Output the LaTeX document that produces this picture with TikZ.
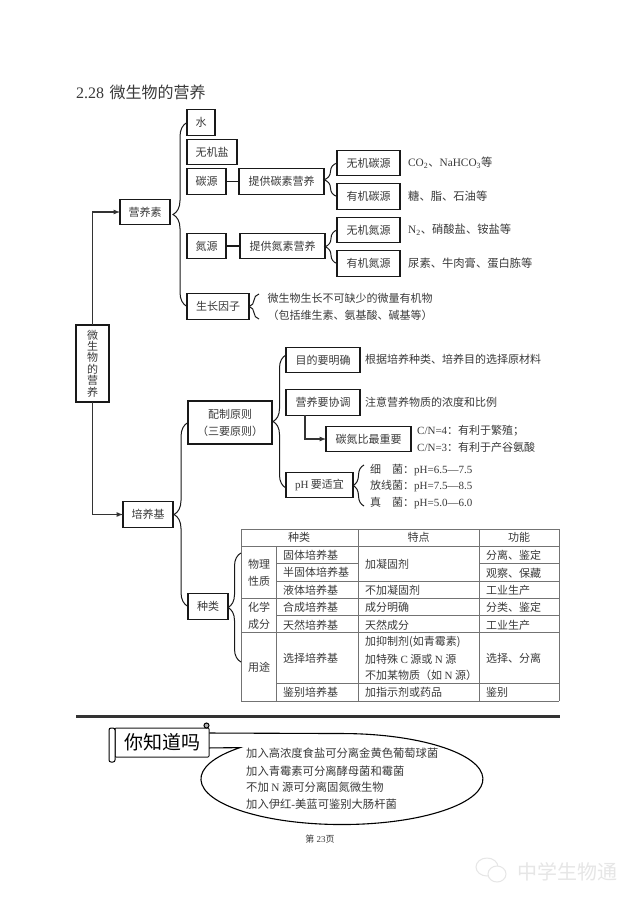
\documentclass[tikz,border=0pt]{standalone}
\usepackage{fontspec}
\usepackage{tikz}
\usetikzlibrary{positioning, decorations.pathreplacing}
\setmainfont{Noto Sans CJK SC}
\newfontfamily\lat{Liberation Serif}
\newcommand{\la}[1]{{\lat #1}}
\definecolor{ink}{HTML}{3A3A3A}
\definecolor{wmark}{HTML}{E6E6E6}

\begin{document}
\begin{tikzpicture}[
  x=1pt, y=-1pt,
  box/.style={draw=black!90, line width=1.2pt, text=ink, font=\fontsize{11}{17}\selectfont,
              align=center, minimum height=25.5pt, inner sep=0pt, outer sep=0pt},
  txt/.style={text=ink, font=\fontsize{11}{17}\selectfont, align=center, inner sep=0pt},
  wide/.style={text=ink, font=\fontsize{11.3}{17}\selectfont, inner sep=0pt},
  cell/.style={txt, anchor=west},
  brc/.style={decorate, decoration={brace, amplitude=#1}, draw=black!90, line width=1pt},
  arr/.style={->, >=latex, draw=black!80, line width=1.2pt},
  tline/.style={draw=black!55, line width=0.7pt},
  node distance=8pt and 13pt
]
  \useasboundingbox (0,0) rectangle (640,905);
  \fill[white] (0,0) rectangle (640,905);

  \node[anchor=west, text=ink, font=\fontsize{16}{18}\selectfont, inner sep=0pt] (title) at (76,92) {\la{2.28}\hspace{5.5pt}微生物的营养};

  % root and first level
  \node[box, minimum width=33pt, minimum height=77pt, font=\fontsize{11}{11.4}\selectfont] (root) at (92.5,363.5) {微\\生\\物\\的\\营\\养};
  \node[box, minimum width=50pt] (yingyang) at (145,212) {营养素};
  \node[box, minimum width=50pt] (peiyang) at (148,514.5) {培养基};
  \draw[arr] (root.north) |- (yingyang.west);
  \draw[arr] (root.south) |- (peiyang.west);

  % nutrients
  \node[box, minimum width=28pt] (shui) at (201,122.5) {水};
  \node[box, minimum width=50pt, below=4pt of shui.south west, anchor=north west] (yan) {无机盐};
  \node[box, minimum width=39pt, below=4pt of yan.south west, anchor=north west] (tan) {碳源};
  \node[box, minimum width=85pt, right=of tan] (tangy) {提供碳素营养};
  \node[box, minimum width=39pt] (dan) at (206.5,246) {氮源};
  \node[box, minimum width=85pt, right=14pt of dan] (dangy) {提供氮素营养};
  \node[box, minimum width=62pt] (yinzi) at (218,306.5) {生长因子};
  \draw[box] (tan)--(tangy); \draw[box] (dan)--(dangy);
  \draw[brc=14pt] (yinzi.west)--(shui.west);

  \node[box, minimum width=63pt] (wutan) at (368.5,163) {无机碳源};
  \node[box, minimum width=63pt, below=of wutan] (youtan) {有机碳源};
  \node[box, minimum width=63pt, below=of youtan] (wudan) {无机氮源};
  \node[box, minimum width=63pt, below=of wudan] (youdan) {有机氮源};
  \draw[brc=13pt] (youtan.west)--(wutan.west);
  \draw[brc=12pt] (youdan.west)--(wudan.west);
  \node[wide, right=8pt of wutan] (wutantxt) {\la{CO\textsubscript{2}}、\la{NaHCO\textsubscript{3}}等};
  \node[wide, right=8pt of youtan] (youtantxt) {糖、脂、石油等};
  \node[wide, right=8pt of wudan] (wudantxt) {\la{N\textsubscript{2}}、硝酸盐、铵盐等};
  \node[wide, right=8pt of youdan] (youdantxt) {尿素、牛肉膏、蛋白胨等};

  \node[txt] (yinzitxt) at (350,306.5) {微生物生长不可缺少的微量有机物\\（包括维生素、氨基酸、碱基等）};
  \coordinate (yzup) at (259,294);
  \coordinate (yzdn) at (259,319);
  \draw[brc=10pt] (yzdn)--(yzup);

  % culture medium
  \node[box, minimum width=84pt, minimum height=43pt] (peizhi) at (230,422.5) {配制原则\\（三要原则）};
  \node[box, minimum width=40pt] (zhonglei) at (208,606.5) {种类};
  \draw[brc=14pt] (zhonglei.west)--(peizhi.west);

  \node[box, minimum width=74pt] (mudi) at (323,360) {目的要明确};
  \node[box, minimum width=74pt] (xietiao) at (323,402.5) {营养要协调};
  \node[box, minimum width=85pt] (tandan) at (368.5,439) {碳氮比最重要};
  \node[box, minimum width=67pt] (ph) at (319.5,485) {\la{pH} 要适宜};
  \draw[brc=13pt] ([yshift=-3pt]ph.west)--([yshift=5pt]mudi.west);
  \draw[arr] (xietiao.south west -| 305,415) |- (tandan.west);

  \node[txt, anchor=west] (muditxt) at (365,359.5) {根据培养种类、培养目的选择原材料};
  \node[txt, anchor=west] (xietiaotxt) at (365,402) {注意营养物质的浓度和比例};
  \node[txt, anchor=west] (cn4) at (417,431) {\la{C/N=4}：有利于繁殖；};
  \node[txt, anchor=west] (cn3) at (417,447) {\la{C/N=3}：有利于产谷氨酸};
  \node[txt, anchor=west] (phxi) at (370,470) {细　菌：\la{pH=6.5—7.5}};
  \node[txt, anchor=west] (phfang) at (370,486) {放线菌：\la{pH=7.5—8.5}};
  \node[txt, anchor=west] (phzhen) at (370,503) {真　菌：\la{pH=5.0—6.0}};
  \coordinate (phup) at (364,465);
  \coordinate (phdn) at (364,506);
  \draw[brc=11pt] (phdn)--(phup);

  % table
  \draw[tline] (241,529)--(559,529); \draw[tline] (241,546)--(559,546);
  \draw[tline] (276,563)--(358,563); \draw[tline] (479,563)--(559,563);
  \draw[tline] (276,581)--(559,581); \draw[tline] (241,598)--(559,598);
  \draw[tline] (276,615)--(559,615); \draw[tline] (241,632)--(559,632);
  \draw[tline] (276,683)--(559,683); \draw[tline] (241,701)--(559,701);
  \draw[tline] (241,529)--(241,701); \draw[tline] (276,546)--(276,701);
  \draw[tline] (358,529)--(358,701); \draw[tline] (479,529)--(479,701);
  \draw[tline] (559,529)--(559,701);
  \coordinate (tabup) at (241,553);
  \coordinate (tabdn) at (241,662);
  \draw[brc=13pt] (tabdn)--(tabup);

  \node[txt] (h1) at (299,537) {种类};
  \node[txt] (h2) at (418.5,537) {特点};
  \node[txt] (h3) at (519,537) {功能};
  \node[txt] (g1) at (259,572.5) {物理\\性质};
  \node[txt] (g2) at (259,615.5) {化学\\成分};
  \node[txt] (g3) at (259,667) {用途};
  \node[cell] (a1) at (283,555) {固体培养基};
  \node[cell] (a2) at (283,572) {半固体培养基};
  \node[cell] (a3) at (283,590) {液体培养基};
  \node[cell] (a4) at (283,607) {合成培养基};
  \node[cell] (a5) at (283,625) {天然培养基};
  \node[cell] (a6) at (283,658) {选择培养基};
  \node[cell] (a7) at (283,692) {鉴别培养基};
  \node[cell] (b1) at (365,564) {加凝固剂};
  \node[cell] (b2) at (365,590) {不加凝固剂};
  \node[cell] (b3) at (365,607) {成分明确};
  \node[cell] (b4) at (365,625) {天然成分};
  \node[cell] (b5) at (365,642) {加抑制剂(如青霉素)};
  \node[cell] (b6) at (365,659) {加特殊 \la{C} 源或 \la{N} 源};
  \node[cell] (b7) at (365,675) {不加某物质（如 \la{N} 源）};
  \node[cell] (b8) at (365,692) {加指示剂或药品};
  \node[cell] (c1) at (486,555) {分离、鉴定};
  \node[cell] (c2) at (486,573) {观察、保藏};
  \node[cell] (c3) at (486,590) {工业生产};
  \node[cell] (c4) at (486,607) {分类、鉴定};
  \node[cell] (c5) at (486,625) {工业生产};
  \node[cell] (c6) at (486,658) {选择、分离};
  \node[cell] (c7) at (486,692) {鉴别};

  % bottom part
  \draw[draw=black!80, line width=3pt] (76,716)--(560,716);
  \draw[draw=black, line width=1.1pt, fill=white] (205,748)--(240,747.6)
    arc[start angle=136.3, end angle=450, x radius=141pt, y radius=45.5pt]--(205,733);
  \node[box, fill=white, line width=1pt, minimum width=94pt, minimum height=29pt, rounded corners=1pt,
        text=black, font=\fontsize{19}{21}\selectfont] (zhidao) at (162,742.5) {你知道吗};
  \draw[draw=black, line width=1pt, fill=white, rounded corners=2pt] (109,728) rectangle (115,762);
  \draw[draw=black, line width=1pt, fill=black!30] (206.5,725.5) circle (2.5pt);
  \node[wide, anchor=west] (k1) at (246,753) {加入高浓度食盐可分离金黄色葡萄球菌};
  \node[wide, anchor=west] (k2) at (246,771) {加入青霉素可分离酵母菌和霉菌};
  \node[wide, anchor=west] (k3) at (246,787) {不加 \la{N} 源可分离固氮微生物};
  \node[wide, anchor=west] (k4) at (246,804) {加入伊红\la{-}美蓝可鉴别大肠杆菌};
  \node[text=ink, font=\fontsize{9}{10}\selectfont, inner sep=0pt] (page) at (320,839) {第 \la{23}页};

  % watermark
  \draw[draw=wmark, line width=1pt] (487,867) ellipse (11pt and 9pt);
  \draw[draw=wmark, line width=1pt, fill=white] (497,874) ellipse (9pt and 8pt);
  \node[anchor=west, text=wmark, font=\fontsize{20}{22}\selectfont, inner sep=0pt] (wxname) at (517,872) {中学生物通};
\end{tikzpicture}
\end{document}
